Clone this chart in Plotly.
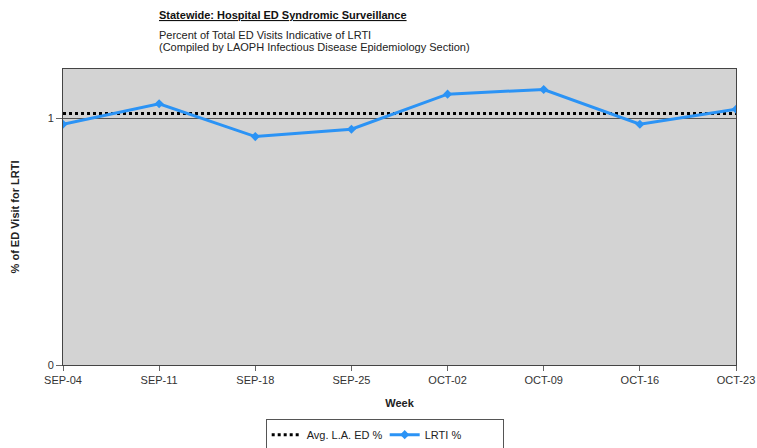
import plotly.graph_objects as go

weeks = ["SEP-04", "SEP-11", "SEP-18", "SEP-25", "OCT-02", "OCT-09", "OCT-16", "OCT-23"]
lrti_pct = [0.976, 1.059, 0.926, 0.956, 1.098, 1.117, 0.976, 1.037]
avg_la_ed_pct = 1.02

FONT = "Liberation Sans, Arial, sans-serif"

fig = go.Figure()

fig.add_trace(go.Scatter(
    x=weeks, y=[avg_la_ed_pct] * len(weeks),
    mode="lines", name="Avg. L.A. ED %",
    line=dict(color="black", width=3, dash="dot"),
))
fig.add_trace(go.Scatter(
    x=weeks, y=lrti_pct,
    mode="lines+markers", name="LRTI %",
    line=dict(color="#2b93f5", width=3),
    marker=dict(symbol="diamond", size=7, color="#2b93f5"),
))

fig.update_layout(
    width=757, height=448,
    margin=dict(l=63, r=21, t=69, b=83, autoexpand=False),
    paper_bgcolor="white",
    plot_bgcolor="#d3d3d3",
    font=dict(family=FONT, size=11, color="#222"),
    showlegend=True,
    legend=dict(
        orientation="h", x=0.478, xanchor="center", y=-0.183, yanchor="top",
        bordercolor="#555", borderwidth=1, bgcolor="white",
        font=dict(size=11, color="#222"), itemwidth=30,
        entrywidth=73, entrywidthmode="pixels",
    ),
    xaxis=dict(
        type="category", range=[0, len(weeks) - 1], automargin=False,
        showgrid=False, ticks="outside", ticklen=5, tickcolor="#666",
        showline=True, linecolor="#444", linewidth=1, mirror=True,
        tickfont=dict(size=11, color="#333"),
        title=dict(text="<b>Week</b>", font=dict(size=11, color="#222"), standoff=14),
    ),
    yaxis=dict(
        range=[0, 1.2], tickvals=[0, 1], ticktext=["0", "1"], automargin=False,
        showgrid=True, gridcolor="#555", gridwidth=1,
        zeroline=False, ticks="outside", ticklen=6, tickcolor="#666",
        showline=True, linecolor="#444", linewidth=1, mirror=True,
        tickfont=dict(size=11, color="#333"),
        title=dict(text="<b>% of ED Visit for LRTI</b>", font=dict(size=11, color="#222"), standoff=25),
    ),
    annotations=[
        dict(text="<b><u>Statewide: Hospital ED Syndromic Surveillance</u></b>",
             xref="paper", yref="paper", x=0.1397, y=1.182, xanchor="left", yanchor="middle",
             showarrow=False, font=dict(size=11, color="#111")),
        dict(text="Percent of Total ED Visits Indicative of LRTI",
             xref="paper", yref="paper", x=0.1397, y=1.115, xanchor="left", yanchor="middle",
             showarrow=False, font=dict(size=11, color="#222")),
        dict(text="(Compiled by LAOPH Infectious Disease Epidemiology Section)",
             xref="paper", yref="paper", x=0.1397, y=1.074, xanchor="left", yanchor="middle",
             showarrow=False, font=dict(size=11, color="#222")),
    ],
)

fig.write_html("out.html")
